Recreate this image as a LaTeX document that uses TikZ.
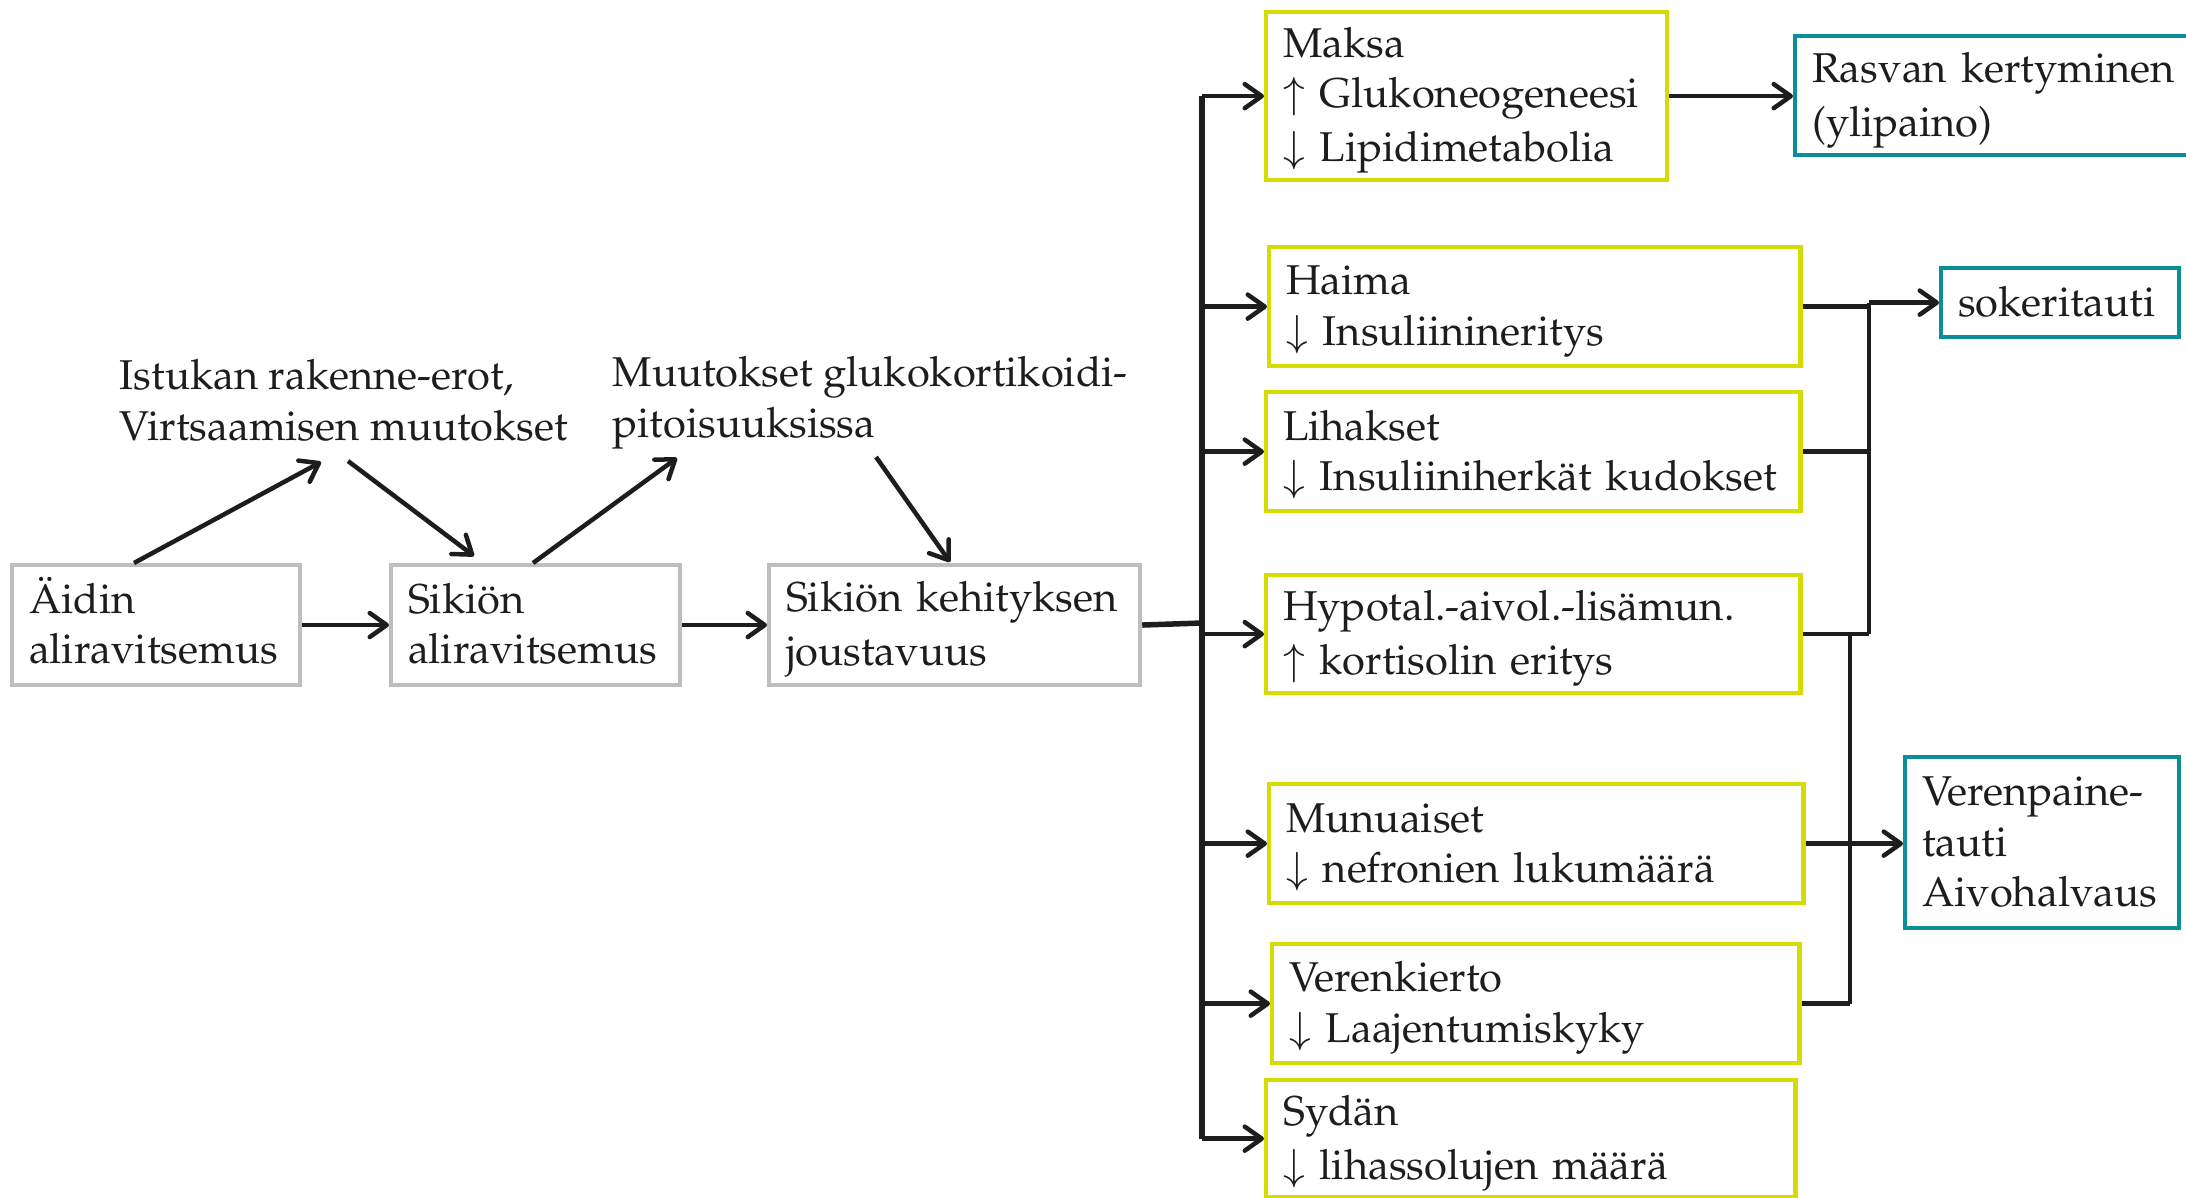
\documentclass[tikz,border=0pt]{standalone}
\usepackage[T1]{fontenc}
\usepackage{mathpazo}
\usetikzlibrary{arrows.meta}
\definecolor{boxgray}{HTML}{BEBEBE}
\definecolor{boxyel}{HTML}{D7DC00}
\definecolor{boxteal}{HTML}{0A8F98}
\definecolor{ink}{HTML}{1D1D1B}
\newcommand\mystrut{\rule[-3.25pt]{0pt}{14.3pt}}
\tikzset{
 txt/.style={text=ink, font=\fontsize{11.85}{14.35}\selectfont},
 box/.style={txt, rectangle, anchor=north west, inner xsep=0.17cm, inner ysep=0pt, align=left,
   execute at begin node={\hyphenpenalty=10000 \mystrut}, execute at end node={\mystrut}},
 gbox/.style={box, draw=boxgray, line width=0.04cm},
 ybox/.style={box, draw=boxyel, line width=0.042cm},
 tbox/.style={box, draw=boxteal, line width=0.042cm},
 lbl/.style={txt, anchor=base west, inner sep=0pt, align=left},
 conn/.style={draw=ink, line width=0.045cm},
 trunk/.style={draw=ink, line width=0.055cm},
 arr/.style={conn, -{Straight Barb[length=0.17cm, width=0.24cm, round]}},
}
\begin{document}
\begin{tikzpicture}[x=0.01cm, y=-0.01cm]
\clip (0,0) rectangle (2186,1197);
% left chain
\node[gbox, minimum width=2.88cm, minimum height=1.20cm, text width=2.54cm] (aidin) at (10,563) {\"Aidin\\aliravitsemus};
\node[gbox, minimum width=2.89cm, minimum height=1.20cm, text width=2.55cm] (sik) at (389,563) {Siki\"on\\aliravitsemus};
\node[gbox, minimum width=3.71cm, minimum height=1.20cm, text width=3.37cm] (keh) at (767,563) {Siki\"on kehityksen\\joustavuus};
\node[lbl] (istukan) at (119,440) {Istukan rakenne-erot,\\Virtsaamisen muutokset};
\node[lbl] (muutokset) at (612,437) {Muutokset glukokortikoidi-\\pitoisuuksissa};
% organ boxes
\node[ybox, minimum width=4.01cm, minimum height=1.68cm, text width=3.67cm] (maksa) at (1264,10) {Maksa\\$\uparrow$ Glukoneogeneesi\\$\downarrow$ Lipidimetabolia};
\node[ybox, minimum width=5.31cm, minimum height=1.19cm, text width=4.97cm] (haima) at (1267,245) {Haima\\$\downarrow$ Insuliinineritys};
\node[ybox, minimum width=5.34cm, minimum height=1.19cm, text width=5.00cm] (lihak) at (1264,390) {Lihakset\\$\downarrow$ Insuliiniherk\"at kudokset};
\node[ybox, minimum width=5.34cm, minimum height=1.18cm, text width=5.00cm] (hypo) at (1264,573) {Hypotal.-aivol.-lis\"amun.\\$\uparrow$ kortisolin eritys};
\node[ybox, minimum width=5.34cm, minimum height=1.19cm, text width=5.00cm] (munu) at (1267,782) {Munuaiset\\$\downarrow$ nefronien lukum\"a\"ar\"a};
\node[ybox, minimum width=5.27cm, minimum height=1.19cm, text width=4.93cm] (veren) at (1270,942) {Verenkierto\\$\downarrow$ Laajentumiskyky};
\node[ybox, minimum width=5.29cm, minimum height=1.17cm, text width=4.95cm] (sydan) at (1264,1078) {Syd\"an\\$\downarrow$ lihassolujen m\"a\"ar\"a};
% outcome boxes
\node[tbox, minimum width=4.30cm, minimum height=1.19cm, text width=3.96cm] (rasvan) at (1793,34) {Rasvan kertyminen\\(ylipaino)};
\node[tbox, minimum width=2.38cm, minimum height=0.69cm, text width=2.04cm] (soker) at (1939,266) {sokeritauti};
\node[tbox, minimum width=2.74cm, minimum height=1.71cm, text width=2.40cm] (verenp) at (1903,755) {Verenpaine-\\tauti\\Aivohalvaus};
% coordinates
\coordinate (a1) at (134,563);
\coordinate (a2) at (321,462);
\coordinate (b1) at (348,461);
\coordinate (b2) at (474,556);
\coordinate (c1) at (533,563);
\coordinate (c2) at (677,458);
\coordinate (d1) at (876,457);
\coordinate (d2) at (950,562);
\coordinate (tr) at (1202,623);
\coordinate (ja) at (1869,0);
\coordinate (jb) at (1850,0);
% left connectors
\draw[arr] (aidin.east) -- (sik.west);
\draw[arr] (sik.east) -- (keh.west);
\draw[arr] (a1) -- (a2);
\draw[arr] (b1) -- (b2);
\draw[arr] (c1) -- (c2);
\draw[arr] (d1) -- (d2);
% trunk
\draw[trunk] (keh.east) -- (tr);
\draw[trunk] (tr |- maksa.west) -- (tr |- sydan.west);
\foreach \n in {maksa,haima,lihak,hypo,munu,veren,sydan}{
  \draw[arr] (tr |- \n.west) -- (\n.west);
}
% right connectors
\draw[arr] (maksa.east) -- (maksa.east -| rasvan.west);
\draw[conn] (haima.east) -- (ja |- haima.east);
\draw[conn] (lihak.east) -- (ja |- lihak.east);
\draw[conn] (hypo.east) -- (ja |- hypo.east);
\draw[conn] (ja |- hypo.east) -- (ja |- soker.west);
\draw[arr] (ja |- soker.west) -- (soker.west);
\draw[conn] (jb |- hypo.east) -- (jb |- veren.east);
\draw[conn] (veren.east) -- (jb |- veren.east);
\draw[arr] (munu.east) -- (munu.east -| verenp.west);
\end{tikzpicture}
\end{document}
